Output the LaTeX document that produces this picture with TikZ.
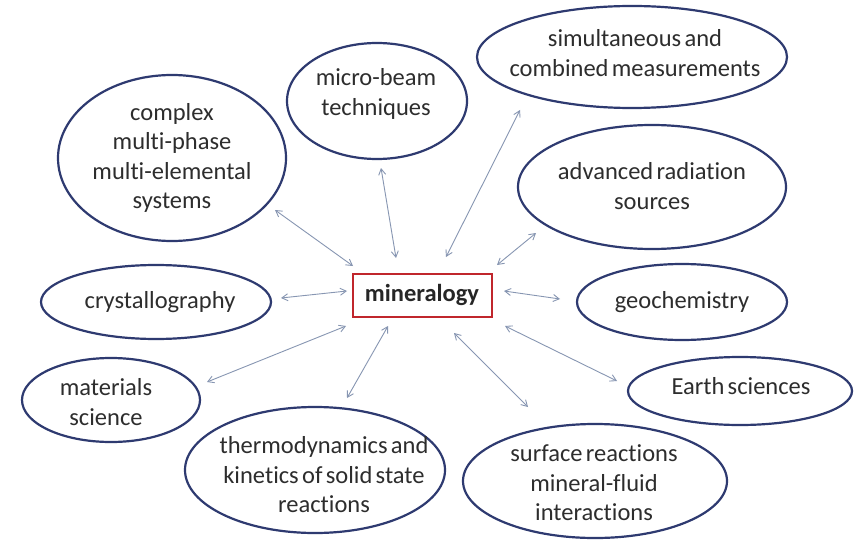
\documentclass[tikz,border=0pt]{standalone}
\usepackage{fontspec}
\setmainfont{Carlito}[Ligatures=NoCommon, WordSpace=0.6]
\usetikzlibrary{shapes.geometric,arrows.meta}
\definecolor{ovalline}{RGB}{46,58,112}
\definecolor{boxred}{RGB}{192,38,44}
\definecolor{arrowcol}{RGB}{135,150,178}
\definecolor{txt}{RGB}{45,45,45}
\tikzset{
  oval/.style={draw=ovalline, line width=2.2pt, ellipse, inner sep=0pt},
  lbl/.style={align=center, text=txt, font=\fontsize{24.5}{29.5}\selectfont, inner sep=0pt},
  mainbox/.style={draw=boxred, line width=2pt, minimum width=139pt, minimum height=43pt, inner sep=0pt,
    font=\fontsize{24.5}{29.5}\selectfont\bfseries, text=black!85},
  link/.style={draw=arrowcol, line width=0.9pt, {Straight Barb[length=6pt,width=7pt]}-{Straight Barb[length=6pt,width=7pt]}}
}
\begin{document}
\begin{tikzpicture}[x=1pt,y=-1pt]
\useasboundingbox (0,0) rectangle (858,540);
\fill[white] (0,0) rectangle (858,540);
% central box
\node[mainbox] (min) at (422,295) {mineralogy};
% ellipses
\node[oval, minimum width=228pt, minimum height=166pt] (cx) at (172,158) {};
\node[oval, minimum width=180pt, minimum height=116pt] (mb) at (377,101) {};
\node[oval, minimum width=310pt, minimum height=102pt] (sm) at (632,57) {};
\node[oval, minimum width=268pt, minimum height=124pt] (ar) at (652,187) {};
\node[oval, minimum width=210pt, minimum height=76pt] (gc) at (682,302) {};
\node[oval, minimum width=224pt, minimum height=68pt] (es) at (740,391) {};
\node[oval, minimum width=264pt, minimum height=114pt] (sr) at (595,481) {};
\node[oval, minimum width=260pt, minimum height=126pt] (th) at (315,470) {};
\node[oval, minimum width=178pt, minimum height=84pt] (ms) at (111,400) {};
\node[oval, minimum width=230pt, minimum height=74pt] (cr) at (156,302) {};
% labels
\node[lbl] (cxt) at (172,158) {complex\\multi-phase\\multi-elemental\\systems};
\node[lbl] (mbt) at (376,94) {micro-beam\\techniques};
\node[lbl] (smt) at (635,53) {simultaneous and\\combined measurements};
\node[lbl] (art) at (652,186) {advanced radiation\\sources};
\node[lbl] (gct) at (682,302) {geochemistry};
\node[lbl] (est) at (741,386) {Earth sciences};
\node[lbl] (srt) at (594,483) {surface reactions\\mineral-fluid\\interactions};
\node[lbl] (tht) at (324,475) {thermodynamics and\\kinetics of solid state\\reactions};
\node[lbl] (mst) at (106,402) {materials\\science};
\node[lbl] (crt) at (160,302) {crystallography};
% connector end points
\coordinate (a1) at (275,210); \coordinate (b1) at (353,266);
\coordinate (a2) at (381,168); \coordinate (b2) at (396,258);
\coordinate (a3) at (520,110); \coordinate (b3) at (446,257);
\coordinate (a4) at (536,233); \coordinate (b4) at (497,265);
\coordinate (a5) at (560,299); \coordinate (b5) at (504,291);
\coordinate (a6) at (617,381); \coordinate (b6) at (505,326);
\coordinate (a7) at (528,407); \coordinate (b7) at (454,333);
\coordinate (a8) at (347,398); \coordinate (b8) at (388,326);
\coordinate (a9) at (207,382); \coordinate (b9) at (346,326);
\coordinate (a10) at (281,298); \coordinate (b10) at (347,291);
\foreach \i in {1,...,10} { \draw[link] (a\i) -- (b\i); }
\end{tikzpicture}
\end{document}
